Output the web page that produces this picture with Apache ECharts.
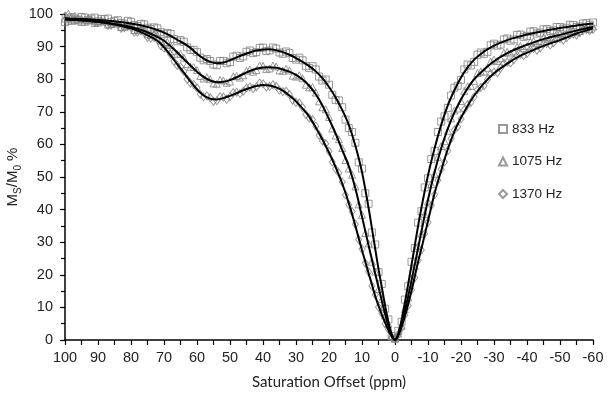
<!DOCTYPE html>
<html>
<head>
<meta charset="utf-8">
<script src="https://cdn.jsdelivr.net/npm/echarts@6/dist/echarts.min.js"></script>
<style>
html,body{margin:0;padding:0;background:#fff;}
#chart{width:612px;height:401px;}
</style>
</head>
<body>
<div id="chart"></div>
<script>
// Saturation offsets (ppm) of the measured points
const obsPpm = [100,99,98,97,96,95,94,93,92,91,90,89,88,87,86,85,84,83,82,81,80,79,78,77,76,75,74,73,72,71,70,69,68,67,66,65,64,63,62,61,60,59,58,57,56,55,54,53,52,51,50,49,48,47,46,45,44,43,42,41,40,39,38,37,36,35,34,33,32,31,30,29,28,27,26,25,24,23,22,21,20,19,18,17,16,15,14,13,12,11,10,9,8,7,6,5,4,3,2,1,0,-1,-2,-3,-4,-5,-6,-7,-8,-9,-10,-11,-12,-13,-14,-15,-16,-17,-18,-19,-20,-21,-22,-23,-24,-25,-26,-27,-28,-29,-30,-31,-32,-33,-34,-35,-36,-37,-38,-39,-40,-41,-42,-43,-44,-45,-46,-47,-48,-49,-50,-51,-52,-53,-54,-55,-56,-57,-58,-59,-60];
// Measured Ms/M0 % (squares = 833 Hz, triangles = 1075 Hz, diamonds = 1370 Hz)
const obs833 = [97.5,98.6,99.0,98.2,98.0,99.1,98.9,98.0,98.6,98.9,
  97.8,98.5,98.4,98.6,97.5,97.9,98.1,97.3,97.0,97.9,
  97.6,96.6,96.3,97.0,96.8,95.8,95.4,95.9,95.6,94.4,
  93.8,94.2,93.9,92.3,91.6,92.0,91.5,89.8,89.0,89.0,
  88.3,86.6,85.8,86.2,85.6,84.5,84.3,85.6,85.6,84.9,
  85.3,86.9,87.2,86.5,87.0,88.4,88.8,88.0,88.3,89.6,
  89.7,88.6,88.8,89.7,89.4,88.2,87.8,88.5,88.0,86.5,
  86.0,86.6,85.8,84.0,83.4,84.0,83.0,80.8,79.6,79.9,
  78.3,75.2,73.6,73.5,71.4,67.6,65.0,63.8,60.5,54.5,
  52.6,45.0,41.8,33.0,29.3,20.8,17.2,9.6,6.3,1.2,
  0.5,
  2.8,5.6,12.4,16.5,24.0,28.2,36.0,39.5,46.8,49.6,
  55.5,58.0,63.8,67.0,68.6,71.2,75.0,77.4,78.0,79.8,
  83.0,84.5,84.2,85.3,87.5,88.2,87.8,88.4,90.4,90.9,
  90.3,90.6,92.2,92.5,91.8,92.2,93.6,93.7,93.0,93.3,
  94.6,94.7,94.0,94.3,95.3,95.4,94.8,95.0,96.0,96.0,
  95.5,95.8,96.7,96.6,96.0,96.2,97.1,97.2,96.7,97.4];
const obs1075 = [98.6,98.0,97.9,98.6,98.4,97.6,97.6,98.2,98.1,97.2,
  97.4,97.9,97.7,96.8,96.9,97.4,97.1,96.0,96.1,96.6,
  96.4,95.1,95.2,95.6,95.2,93.9,93.6,93.9,93.4,91.8,
  91.4,91.4,90.5,88.6,87.8,87.8,86.6,84.6,83.8,83.7,
  82.8,81.0,80.2,80.6,80.0,78.7,78.6,79.8,79.6,78.9,
  79.3,80.9,81.0,80.5,81.2,82.6,83.0,82.3,82.8,84.2,
  84.1,83.1,83.3,84.2,83.9,82.7,82.6,83.2,82.7,81.1,
  80.8,81.2,80.3,78.3,77.5,77.6,75.9,73.2,71.4,70.8,
  68.4,64.9,62.7,61.6,58.9,55.2,52.6,50.7,47.1,41.6,
  38.4,32.8,29.6,24.0,21.0,15.6,12.6,7.5,4.9,1.0,
  0.4,
  2.0,4.4,9.5,13.0,18.9,22.7,28.8,32.6,38.6,42.5,
  47.8,51.0,56.2,59.5,61.0,64.2,68.0,70.4,71.0,73.3,
  76.4,77.8,78.0,79.5,81.9,82.4,82.3,83.5,85.5,86.0,
  85.6,86.4,88.1,88.4,87.9,88.5,89.9,90.2,89.6,90.2,
  91.5,91.7,91.0,91.6,92.8,93.0,92.4,92.8,93.9,94.0,
  93.4,93.8,94.8,94.9,94.4,94.8,95.7,95.8,95.4,96.2];
const obs1370 = [99.4,99.8,98.9,99.2,98.6,98.3,98.0,98.5,98.2,97.4,
  97.5,97.9,97.6,96.5,96.6,97.0,96.9,95.6,95.8,96.2,
  95.9,94.4,94.5,94.8,94.3,92.8,92.6,92.8,92.1,90.3,
  89.5,89.2,87.6,85.5,84.2,83.8,82.4,80.0,78.8,78.4,
  77.3,75.4,74.6,74.9,74.3,73.2,73.4,74.6,74.5,73.9,
  74.6,75.9,76.0,75.6,76.3,77.3,77.6,77.1,77.6,78.8,
  78.6,77.6,77.8,78.3,77.8,76.6,76.2,76.3,75.3,73.6,
  72.9,72.7,71.3,69.2,68.1,67.6,65.6,62.8,61.1,60.2,
  57.9,54.6,52.5,51.2,48.5,44.5,41.5,39.4,35.5,30.8,
  27.9,23.6,20.9,16.6,13.9,10.1,8.2,5.0,3.3,0.8,
  0.3,
  1.6,3.7,7.7,10.6,15.4,19.1,24.4,27.6,32.6,36.1,
  41.3,44.6,49.0,52.4,54.6,58.1,61.8,64.4,65.4,67.8,
  70.6,72.2,72.9,74.6,76.8,77.5,78.0,79.9,81.7,82.2,
  82.0,83.4,84.9,85.2,85.0,86.0,87.3,87.6,87.2,87.9,
  89.1,89.4,88.9,89.6,90.8,91.0,90.5,91.1,92.3,92.4,
  92.0,92.7,93.6,93.8,93.6,94.3,95.0,95.2,94.9,95.3];

// Fitted curves
const fitPpm = [100,96,92,88,84,80,76,72,70,68,66,64,62,60,58,56,54,52,50,48,46,44,42,40,38,36,34,32,30,28,26,24,22,20,18,16,14,12,10,8,7,6,5,4,3,2,1,0,-1,-2,-3,-4,-5,-6,-7,-8,-10,-12,-14,-16,-18,-20,-22,-24,-27,-30,-34,-38,-42,-46,-50,-55,-60];
const fit833 = [98.7,98.5,98.3,98.0,97.6,97.1,96.3,95.1,94.3,93.3,92.1,91.0,89.6,87.8,86.3,85.3,84.9,85.1,85.8,86.7,87.5,88.2,88.8,89.1,89.2,88.9,88.3,87.5,86.5,85.3,84.0,82.4,80.3,77.6,74.4,70.6,66.0,59.6,51.5,40.5,34.3,28.0,21.8,16.2,10.5,5.5,1.8,0,2.0,6.2,11.5,17.2,23.0,29.0,35.0,40.5,50.5,58.8,66.0,72.0,76.6,80.5,83.6,86.0,88.5,90.3,92.0,93.2,94.2,95.0,95.7,96.5,97.1];
const fit1075 = [98.3,98.1,97.8,97.4,96.8,96.0,94.8,93.0,91.8,90.1,88.2,86.2,84.2,82.3,80.7,79.6,79.1,79.2,79.7,80.6,81.6,82.5,83.2,83.6,83.7,83.5,83.0,82.3,81.3,79.9,78.0,75.4,71.9,67.8,63.3,58.3,53.3,46.5,37.8,29.0,24.7,20.4,16.2,12.0,8.0,4.4,1.4,0,1.6,4.8,9.0,13.5,18.3,23.2,28.2,33.2,43.0,51.5,58.8,64.8,69.8,73.8,77.2,80.0,83.0,85.5,88.0,89.8,91.3,92.6,93.6,94.9,96.0];
const fit1370 = [98.4,98.2,97.8,97.3,96.6,95.6,94.0,91.8,89.8,87.3,84.6,82.0,79.3,76.9,75.0,74.0,73.8,74.2,74.9,75.7,76.6,77.3,77.9,78.2,78.1,77.5,76.5,75.0,73.2,71.0,68.5,65.2,61.5,57.5,53.0,48.0,42.0,35.0,27.5,20.5,17.0,13.5,10.5,7.8,5.3,3.0,1.0,0,1.3,4.0,7.3,11.0,15.0,19.5,24.0,28.0,36.5,45.0,52.0,58.5,64.0,68.2,71.8,75.0,78.8,81.8,84.8,87.2,89.0,90.6,92.0,94.0,95.6];

const seriesNames = ['833 Hz','1075 Hz','1370 Hz'];
const symbols = ['rect','triangle','diamond'];
const obsSets = [obs833, obs1075, obs1370];
const fitSets = [fit833, fit1075, fit1370];

const pair = (xs, ys) => xs.map((x, i) => [x, ys[i]]);
const font = 'Liberation Sans, Arial, sans-serif';

const series = [];
obsSets.forEach((ys, k) => {
  series.push({
    name: seriesNames[k],
    type: 'scatter',
    symbol: symbols[k],
    symbolSize: k === 2 ? [6, 8] : 7,
    itemStyle: { color: 'rgba(255,255,255,0)', borderColor: '#808080', borderWidth: 1 },
    data: pair(obsPpm, ys),
    z: 2
  });
});
fitSets.forEach((ys, k) => {
  series.push({
    name: 'fit ' + seriesNames[k],
    type: 'line',
    showSymbol: false,
    smooth: 0.35,
    lineStyle: { color: '#000', width: 2 },
    data: pair(fitPpm, ys),
    z: 3
  });
});

const chart = echarts.init(document.getElementById('chart'), null, { renderer: 'canvas' });
chart.setOption({
  animation: false,
  backgroundColor: '#fff',
  grid: { left: 65, right: 19, top: 14, bottom: 61, containLabel: false, outerBoundsMode: 'none' },
  legend: {
    data: seriesNames,
    orient: 'vertical',
    left: 493,
    top: 117,
    itemGap: 18.5,
    itemWidth: 8,
    itemHeight: 8,
    textStyle: { fontFamily: font, fontSize: 13.5, color: '#222' }
  },
  xAxis: {
    type: 'value',
    min: -60, max: 100, interval: 10,
    inverse: true,
    name: 'Saturation Offset (ppm)',
    nameLocation: 'middle',
    nameGap: 35,
    nameMoveOverlap: false,
    nameTextStyle: { fontFamily: 'Lato, Open Sans, sans-serif', fontSize: 15, color: '#222' },
    axisLine: { onZero: false, lineStyle: { color: '#000', width: 1.5 } },
    axisTick: { inside: false, length: 5, lineStyle: { color: '#000', width: 1.2 } },
    minorTick: { show: true, splitNumber: 2, length: 5, lineStyle: { color: '#000', width: 1.2 } },
    splitLine: { show: false },
    axisLabel: { margin: 10, fontFamily: font, fontSize: 14.5, color: '#222' }
  },
  yAxis: {
    type: 'value',
    min: 0, max: 100, interval: 10,
    name: '{m|M}{s|S}{m|/M}{s|0}{m| %}',
    nameLocation: 'middle',
    nameGap: 42,
    nameRotate: 90,
    nameMoveOverlap: false,
    nameTextStyle: {
      color: '#222',
      rich: {
        m: { fontFamily: font, fontSize: 15, lineHeight: 20, color: '#222' },
        s: { fontFamily: font, fontSize: 10, lineHeight: 11, verticalAlign: 'bottom', color: '#222' }
      }
    },
    axisLine: { show: true, onZero: false, lineStyle: { color: '#000', width: 1.5 } },
    axisTick: { show: true, inside: false, length: 5, lineStyle: { color: '#000', width: 1.2 } },
    minorTick: { show: true, splitNumber: 2, length: 4, lineStyle: { color: '#000', width: 1.2 } },
    splitLine: { show: false },
    axisLabel: { margin: 12, fontFamily: font, fontSize: 14.5, color: '#222' }
  },
  series: series
});
</script>
</body>
</html>
